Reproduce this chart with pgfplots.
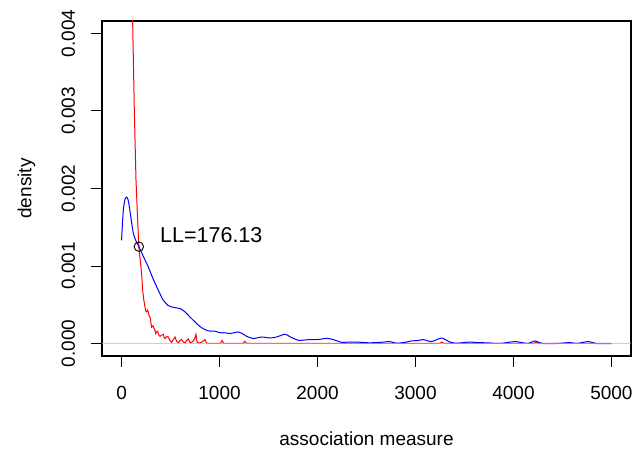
\documentclass[border=0pt]{standalone}
\usepackage{fontspec}
\setmainfont{Liberation Sans}
\usepackage{pgfplots}
\pgfplotsset{compat=1.18}
\begin{document}
\fontsize{19bp}{23bp}\selectfont
\begin{tikzpicture}[x=1bp,y=1bp]
\useasboundingbox (-102,-94) rectangle (532,356);
\begin{axis}[
  at={(0,0)}, anchor=south west,
  scale only axis, width=529bp, height=335bp,
  xmin=-200, xmax=5200, ymin=-0.00016, ymax=0.00416,
  axis line style={line width=1.1bp, black},
  xtick={0,1000,2000,3000,4000,5000},
  ytick={0,0.001,0.002,0.003,0.004},
  tick align=outside, xtick pos=bottom, ytick pos=left,
  major tick length=11bp,
  tick style={line width=1bp, black},
  scaled y ticks=false, scaled x ticks=false,
  /pgf/number format/assume math mode=true,
  yticklabel style={/pgf/number format/fixed, /pgf/number format/fixed zerofill, /pgf/number format/precision=3},
  xticklabel style={/pgf/number format/1000 sep={}},
  tick label style={font=\fontsize{19bp}{23bp}\selectfont},
  xticklabel style={anchor=base, yshift=-32.3bp},
  yticklabel style={anchor=base, xshift=-16bp, rotate=90},
  xlabel={association measure},
  ylabel={density},
  label style={font=\fontsize{19bp}{23bp}\selectfont},
  xlabel style={at={(axis description cs:0.5,-0.2657)}, anchor=base},
  ylabel style={at={(axis description cs:-0.1333,0.5)}, anchor=base, rotate=0},
  clip=true,
]
\addplot[red, line width=1bp] coordinates {
(0,0.03) (50,0.013) (80,0.0072) (100,0.0052) (115,0.0040) (130,0.0030) (147,0.00211) (162,0.00165) (176.13,0.00125) (190,0.00108) (198,0.00099) (207,0.00085) (215,0.00069) (227,0.00056) (239,0.00047) (247,0.00042) (256,0.00041) (264,0.00043) (272,0.00041) (280,0.00036) (290,0.00034) (298,0.00028) (307,0.00021) (320,0.00023) (334,0.00019) (341,0.00017) (348,0.00013) (356,0.00015) (368,0.00016) (380,0.00011) (392,0.000094) (410,0.00011) (426,0.00012) (435,0.00008) (443,0.000065) (460,0.00009) (477,0.000085) (494,0.00004) (511,0.000017) (528,0.00005) (545,0.000085) (562,0.00003) (579,0.00001) (596,0.00004) (613,0.000052) (630,0.00002) (647,0.00001) (664,0.00004) (681,0.00006) (695,0.00002) (708,0.00001) (728,0.00003) (745,0.00006) (759,0.00012) (770,0.00002) (790,0.000005) (820,0.00002) (840,0.00004) (851,0.00005) (865,0.00001) (882,0.000003) (1010,0.000003) (1026,0.00004) (1042,0.000003) (1240,0.000003) (1257,0.00003) (1274,0.000003) (3250,0.000003) (3269,0.00002) (3288,0.000003) (4210,0.000003) (4230,0.00002) (4250,0.000003) (5000,0.000003)
};
\addplot[blue, line width=1bp, smooth, tension=0.4] coordinates {
(0,0.00133) (10,0.00158) (20,0.00175) (35,0.00186) (50,0.00189) (65,0.00186) (80,0.00176) (100,0.00158) (120,0.00142) (145,0.00133) (176.13,0.00125) (220,0.00113) (272,0.00099) (320,0.00084) (374,0.00069) (425,0.00056) (477,0.00049) (520,0.00047) (562,0.00046) (600,0.00045) (647,0.00041) (700,0.00034) (749,0.00028) (800,0.00022) (851,0.00018) (900,0.00016) (953,0.00016) (1004,0.00014) (1050,0.00014) (1106,0.00013) (1150,0.00014) (1191,0.00015) (1230,0.00013) (1277,0.000094) (1344,0.000065) (1430,0.000085) (1514,0.000072) (1583,0.000085) (1667,0.00012) (1736,0.000077) (1803,0.000043) (1860,0.000045) (1922,0.000052) (2007,0.000052) (2093,0.000068) (2160,0.000052) (2246,0.000017) (2331,0.00002) (2433,0.000017) (2535,0.00001) (2654,0.000017) (2739,0.000026) (2807,0.000004) (2909,0.00002) (2960,0.000035) (3028,0.000039) (3079,0.000052) (3164,0.000026) (3266,0.000072) (3351,0.00002) (3419,0.000004) (3480,0.000012) (3555,0.00002) (3640,0.000012) (3726,0.00001) (3861,0.000001) (4014,0.000026) (4147,0.000001) (4218,0.000034) (4300,0.000001) (4443,0.000001) (4576,0.000013) (4647,0.000001) (4762,0.000026) (4848,0.000001) (5000,0.000001)
};
\addplot[gray!55, opacity=0.7, line width=1.2bp] coordinates {(-200,0) (5200,0)};
\addplot[only marks, mark=o, mark size=4.7bp, mark options={line width=0.9bp, black}] coordinates {(176.13,0.00125)};
\node[anchor=west, inner sep=0pt, font=\fontsize{21.5bp}{25bp}\selectfont] at (axis cs:392,0.0014) {LL=176.13};
\end{axis}
\end{tikzpicture}
\end{document}
